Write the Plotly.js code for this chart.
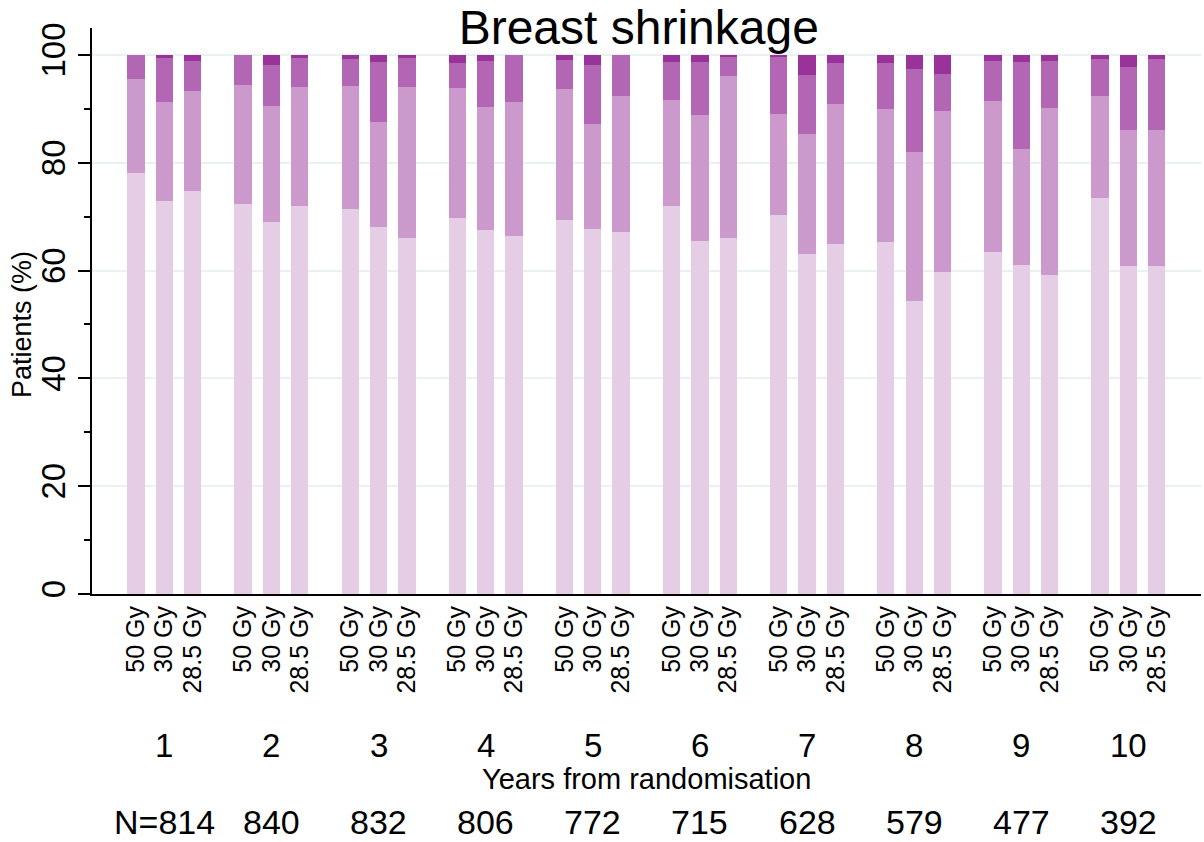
<!DOCTYPE html>
<html>
<head>
<meta charset="utf-8">
<script src="https://cdn.plot.ly/plotly-3.0.1.min.js"></script>
<style>html,body{margin:0;padding:0;background:#fff;}#chart{width:1204px;height:842px;}</style>
</head>
<body>
<div id="chart"></div>
<script>
// Data. Bars ordered per year: 50 Gy, 30 Gy, 28.5 Gy
const years = ["1","2","3","4","5","6","7","8","9","10"];
const doses = ["50 Gy","30 Gy","28.5 Gy"];
const nLabels = ["N=814","840","832","806","772","715","628","579","477","392"];
const xTitle = "Years from randomisation";
const yTitle = "Patients (%)";
const chartTitle = "Breast shrinkage";

// Segment percentages (bottom to top), 30 values each
const level1 = [78.1,72.9,74.8, 72.4,69.0,72.0, 71.4,68.1,66.0, 69.8,67.5,66.4, 69.4,67.7,67.2,
                72.0,65.5,66.0, 70.3,63.1,64.9, 65.3,54.4,59.7, 63.5,61.0,59.2, 73.5,60.9,60.9];
const level2 = [17.4,18.4,18.5, 22.0,21.5,22.1, 22.8,19.5,28.1, 24.1,22.9,24.9, 24.3,19.5,25.2,
                19.7,23.4,30.1, 18.8,22.2,26.0, 24.7,27.6,29.9, 28.0,21.6,31.0, 18.9,25.2,25.2];
const level3 = [4.5,8.2,5.6, 5.6,7.7,5.4, 5.1,11.1,5.4, 4.6,8.5,8.7, 5.4,10.9,7.6,
                7.0,9.8,3.5, 10.5,11.0,7.6, 8.5,15.4,6.9, 7.4,16.1,8.7, 6.9,11.7,13.2];
const level4 = [0,0.5,1.1, 0,1.8,0.5, 0.7,1.3,0.5, 1.5,1.1,0, 0.9,1.9,0,
                1.3,1.3,0.4, 0.4,3.7,1.5, 1.5,2.6,3.5, 1.1,1.3,1.1, 0.7,2.2,0.7];

const colors = ["#e6cde6","#cc99cc","#b366b3","#993399"];
const levels = [level1, level2, level3, level4];

const groupStep = 3.78;
const xs = [], tickText = [];
years.forEach((y, g) => doses.forEach((d, j) => { xs.push(g * groupStep + j); tickText.push(d); }));

const font = "Arial, 'Liberation Sans', sans-serif";
const traces = levels.map((vals, k) => ({
  type: "bar", x: xs, y: vals, width: 0.61,
  marker: {color: colors[k], line: {width: 0}},
  hoverinfo: "y", showlegend: false
}));

// plot geometry
const W = 1204, H = 842, mt = 28, mb = 248, ml = 92, mr = 3;
const ph = H - mt - mb;
const pY = (px) => (H - mb - px) / ph;
const pX = (px) => (px - ml) / (W - ml - mr);

const annotations = [];
years.forEach((y, g) => {
  annotations.push({xref:"x", yref:"paper", x: g*groupStep + 1, y: pY(745), text: y,
    showarrow:false, yanchor:"middle", font:{size:33, color:"#000", family:font}});
  annotations.push({xref:"x", yref:"paper", x: g*groupStep + 1, y: pY(822), text: nLabels[g],
    showarrow:false, yanchor:"middle", font:{size:34, color:"#000", family:font}});
});
annotations.push({xref:"paper", yref:"paper", x: 0.5, y: pY(779), text: xTitle,
  showarrow:false, yanchor:"middle", font:{size:29, color:"#000", family:font}});
annotations.push({xref:"paper", yref:"paper", x: pX(22), y: pY(325), text: yTitle, textangle: -90,
  showarrow:false, xanchor:"center", yanchor:"middle", font:{size:27, color:"#000", family:font}});

const layout = {
  width: W, height: H,
  margin: {l: ml, r: mr, t: mt, b: mb, pad: 0},
  paper_bgcolor: "#fff", plot_bgcolor: "#fff",
  barmode: "stack", bargap: 0,
  font: {family: font, color: "#000"},
  title: {text: chartTitle, font: {size: 48, color: "#000", family: font},
          xref: "paper", x: 0.493, xanchor: "center", yref: "container", y: 1 - 27/H, yanchor: "middle"},
  xaxis: {range: [-1.55, 9*groupStep + 2 + 1.56], tickvals: xs, ticktext: tickText,
          tickangle: -90, tickfont: {size: 25, family: font}, ticks: "", showgrid: false,
          showline: true, linecolor: "#000", linewidth: 2, zeroline: false, fixedrange: true},
  yaxis: {range: [0, 105], tickvals: [0,20,40,60,80,100], tickangle: -90,
          tickfont: {size: 33, family: font}, ticks: "outside", ticklen: 12, tickwidth: 2, tickcolor: "#000",
          minor: {dtick: 10, tick0: 0, ticks: "outside", ticklen: 6, tickwidth: 2, tickcolor: "#000", showgrid: false},
          showgrid: true, gridcolor: "#e9f1f2", gridwidth: 2,
          showline: true, linecolor: "#000", linewidth: 2, zeroline: false},
  annotations: annotations
};

Plotly.newPlot("chart", traces, layout, {displayModeBar: false, staticPlot: true});
</script>
</body>
</html>
